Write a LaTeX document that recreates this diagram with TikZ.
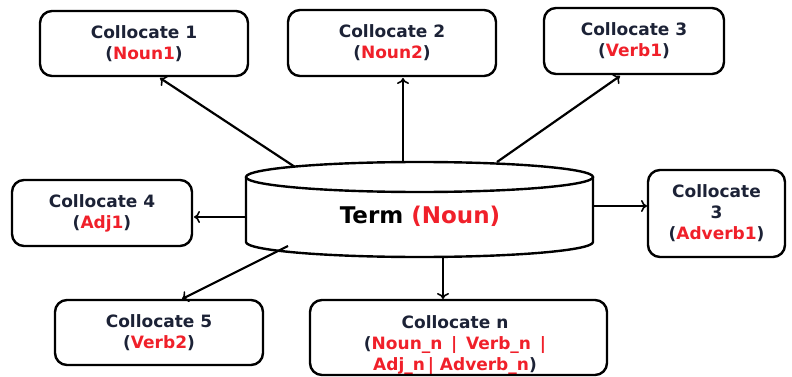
\documentclass[tikz,border=0pt]{standalone}
\usepackage{fontspec}
\setmainfont{DejaVu Sans}
\usetikzlibrary{arrows.meta}
\definecolor{txt}{HTML}{1C2236}
\definecolor{rd}{HTML}{F0202A}
\tikzset{
  box/.style={draw=black, line width=2.4pt, rounded corners=12pt, fill=white, inner sep=0pt},
  lbl/.style={align=center, font=\bfseries\fontsize{17}{21}\selectfont, text=txt, inner sep=0pt},
  arr/.style={line width=2.2pt, -{To[length=6pt,width=12pt,line width=1.6pt]}},
}
\newcommand{\rt}[1]{\textcolor{rd}{#1}}
\begin{document}
\begin{tikzpicture}[x=1pt,y=-1pt]
\useasboundingbox (0,0) rectangle (792,377);
% boxes
\node[box, minimum width=208pt, minimum height=65pt] (c1) at (144,43.5) {};
\node[lbl] at (c1) {Collocate 1\\(\rt{Noun1})};
\node[box, minimum width=208pt, minimum height=66pt] (c2) at (392,43) {};
\node[lbl] at (c2) {Collocate 2\\(\rt{Noun2})};
\node[box, minimum width=180pt, minimum height=66pt] (c3) at (634,41) {};
\node[lbl] at (c3) {Collocate 3\\(\rt{Verb1})};
\node[box, minimum width=180pt, minimum height=66pt] (c4) at (102,213) {};
\node[lbl] at (c4) {Collocate 4\\(\rt{Adj1})};
\node[box, minimum width=137pt, minimum height=87pt] (c6) at (716.5,213.5) {};
\node[lbl] at (c6) {Collocate\\3\\(\rt{Adverb1})};
\node[box, minimum width=208pt, minimum height=65pt] (c5) at (159,332.5) {};
\node[lbl] at (c5) {Collocate 5\\(\rt{Verb2})};
\node[lbl] (cntext) at (455,345) {Collocate n\\(\rt{Noun\_n \,|\, Verb\_n \,|}\\\rt{Adj\_n\,| Adverb\_n})};
\node[box, fill=none, minimum width=297pt, minimum height=75pt] (cn) at (458.5,337.5) {};
% cylinder
\fill[white] (246,177) -- (246,242) arc[start angle=180,end angle=360,x radius=173.5pt,y radius=15pt] -- (593,177) -- cycle;
\draw[line width=2.4pt, fill=white] (419.5,177) ellipse [x radius=173.5pt, y radius=15pt];
\draw[line width=2.4pt] (246,177) -- (246,242) arc[start angle=180,end angle=360,x radius=173.5pt,y radius=15pt] -- (593,177);
\node[font=\bfseries\fontsize{23}{27}\selectfont, text=black, minimum width=347pt, minimum height=95pt] (term) at (420,216) {Term \rt{(Noun)}};
% connector start points on cylinder
\coordinate (t1) at (295,167);
\coordinate (t2) at (403,162);
\coordinate (t3) at (497,162);
\coordinate (t4) at (247,217);
\coordinate (t6) at (593,206);
\coordinate (t5) at (288,246);
\coordinate (tn) at (443,258);
\coordinate (e1) at (160,78);
\coordinate (e2) at (403,78);
\coordinate (e3) at (620,76);
\coordinate (e4) at (194,217);
\coordinate (e6) at (647,206);
\coordinate (e5) at (182,299);
\coordinate (en) at (443,299);
\draw[arr] (t1) -- (e1);
\draw[arr] (t2) -- (e2);
\draw[arr] (t3) -- (e3);
\draw[arr] (t4) -- (e4);
\draw[arr] (t6) -- (e6);
\draw[arr] (t5) -- (e5);
\draw[arr] (tn) -- (en);
\end{tikzpicture}
\end{document}
